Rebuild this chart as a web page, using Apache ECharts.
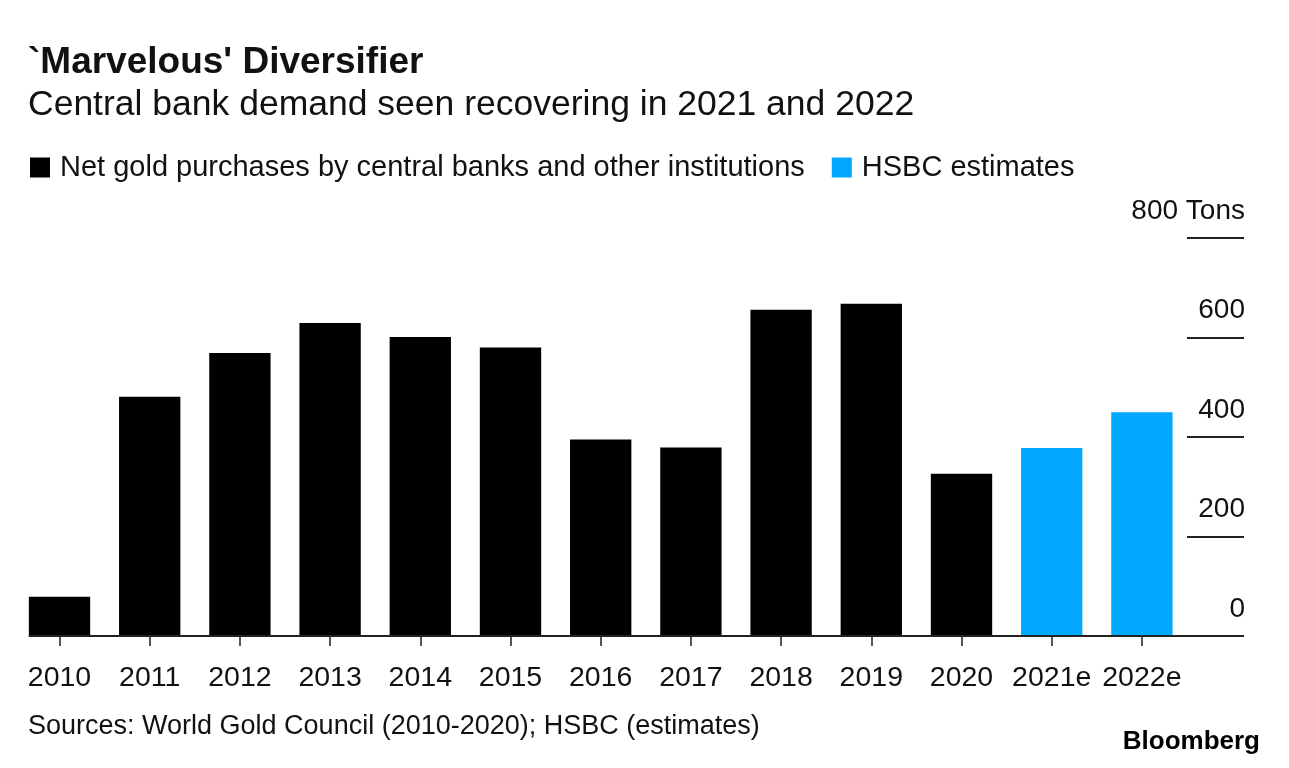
<!DOCTYPE html>
<html>
<head>
<meta charset="utf-8">
<script src="https://cdn.jsdelivr.net/npm/echarts@6/dist/echarts.min.js"></script>
<style>
html,body{margin:0;padding:0;background:#fff;}
#c{width:1289px;height:768px;}
</style>
</head>
<body>
<div id="c"></div>
<script>
const categories = ['2010','2011','2012','2013','2014','2015','2016','2017','2018','2019','2020','2021e','2022e'];
const actualValues = [79, 481, 569, 629, 601, 580, 395, 379, 656, 668, 326, '-', '-'];
const estimateValues = ['-', '-', '-', '-', '-', '-', '-', '-', '-', '-', '-', 378, 450];
const yTicks = [0, 200, 400, 600, 800];
const seriesNames = ['Net gold purchases by central banks and other institutions', 'HSBC estimates'];

const FONT = '"Liberation Sans", Arial, Helvetica, sans-serif';
const chart = echarts.init(document.getElementById('c'), null, {renderer: 'canvas'});
const option = {
  backgroundColor: '#ffffff',
  animation: false,
  textStyle: {fontFamily: FONT, color: '#111'},
  title: [
    {text: "`Marvelous' Diversifier", left: 28, top: 44, padding: 0,
     textStyle: {fontFamily: FONT, fontSize: 37, fontWeight: 'bold', color: '#111'}},
    {text: 'Central bank demand seen recovering in 2021 and 2022', left: 28, top: 87, padding: 0,
     textStyle: {fontFamily: FONT, fontSize: 35.5, fontWeight: 'normal', color: '#111'}},
    {text: 'Sources: World Gold Council (2010-2020); HSBC (estimates)', left: 28, top: 713, padding: 0,
     textStyle: {fontFamily: FONT, fontSize: 27, fontWeight: 'normal', color: '#111'}},
    {text: 'Bloomberg', right: 29, top: 729, padding: 0,
     textStyle: {fontFamily: FONT, fontSize: 26, fontWeight: 'bold', color: '#000'}}
  ],
  legend: {
    left: 30, top: 153, padding: 0, itemWidth: 20, itemHeight: 20, itemGap: 27,
    icon: 'rect',
    textStyle: {fontFamily: FONT, fontSize: 29, color: '#111', padding: [0, 0, 0, 5]},
    data: seriesNames
  },
  grid: {left: 14.4, right: 102, top: 238, bottom: 132, containLabel: false},
  xAxis: {
    type: 'category',
    data: categories,
    axisLine: {show: false},
    axisTick: {show: true, alignWithLabel: true, length: 10, lineStyle: {color: '#222', width: 1.5}},
    axisLabel: {fontFamily: FONT, fontSize: 28.5, color: '#111', margin: 28, interval: 0}
  },
  yAxis: {
    type: 'value',
    position: 'right',
    min: 0, max: 800, interval: 200,
    axisLine: {show: false},
    splitLine: {show: false},
    axisTick: {show: true, length: 57, lineStyle: {color: '#222', width: 2}},
    axisLabel: {
      fontFamily: FONT, fontSize: 28, color: '#111', margin: 58, align: 'right',
      verticalAlign: 'bottom', padding: [0, 0, 13, 0],
      formatter: v => v === 800 ? '800 Tons' : String(v)
    }
  },
  series: [
    {name: seriesNames[0], type: 'bar', stack: 'all', data: actualValues,
     barCategoryGap: '32%', itemStyle: {color: '#000000'}},
    {name: seriesNames[1], type: 'bar', stack: 'all', data: estimateValues,
     barCategoryGap: '32%', itemStyle: {color: '#00a8ff'}}
  ]
};
chart.setOption(option);

// baseline from left edge of first bar to grid right (axis tick at 0 extends it further)
const first = chart.convertToPixel({xAxisIndex: 0, yAxisIndex: 0}, [0, 0]);
const last = chart.convertToPixel({xAxisIndex: 0, yAxisIndex: 0}, [categories.length - 1, 0]);
const band = (last[0] - first[0]) / (categories.length - 1);
const barW = band * 0.68;
chart.setOption({
  graphic: [{
    type: 'line', silent: true, z: 10,
    shape: {x1: first[0] - barW / 2, y1: first[1], x2: last[0] + band / 2, y2: first[1]},
    style: {stroke: '#222', lineWidth: 2}
  }]
});
</script>
</body>
</html>
